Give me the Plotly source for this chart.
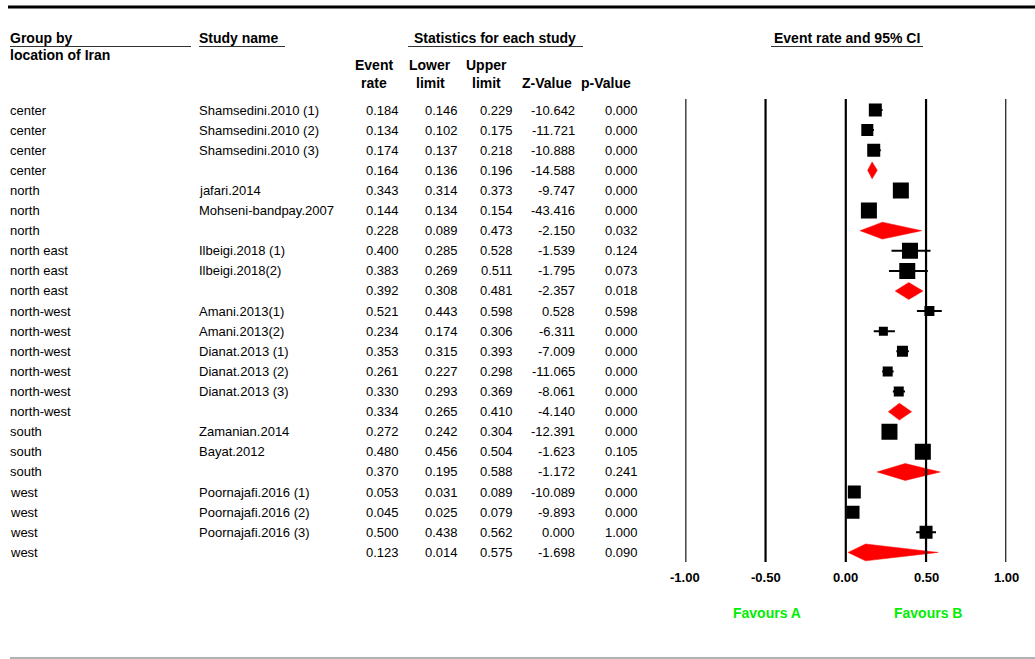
import plotly.graph_objects as go

# ---- data -------------------------------------------------------------
groups = ["center", "center", "center", "center",
          "north", "north", "north",
          "north east", "north east", "north east",
          "north-west", "north-west", "north-west", "north-west", "north-west", "north-west",
          "south", "south", "south",
          "west", "west", "west", "west"]
studies = ["Shamsedini.2010 (1)", "Shamsedini.2010 (2)", "Shamsedini.2010 (3)", "",
           "jafari.2014", "Mohseni-bandpay.2007", "",
           "Ilbeigi.2018 (1)", "Ilbeigi.2018(2)", "",
           "Amani.2013(1)", "Amani.2013(2)", "Dianat.2013 (1)", "Dianat.2013 (2)", "Dianat.2013 (3)", "",
           "Zamanian.2014", "Bayat.2012", "",
           "Poornajafi.2016 (1)", "Poornajafi.2016 (2)", "Poornajafi.2016 (3)", ""]
event_rate = [0.184, 0.134, 0.174, 0.164,
              0.343, 0.144, 0.228,
              0.400, 0.383, 0.392,
              0.521, 0.234, 0.353, 0.261, 0.330, 0.334,
              0.272, 0.480, 0.370,
              0.053, 0.045, 0.500, 0.123]
lower_limit = [0.146, 0.102, 0.137, 0.136,
               0.314, 0.134, 0.089,
               0.285, 0.269, 0.308,
               0.443, 0.174, 0.315, 0.227, 0.293, 0.265,
               0.242, 0.456, 0.195,
               0.031, 0.025, 0.438, 0.014]
upper_limit = [0.229, 0.175, 0.218, 0.196,
               0.373, 0.154, 0.473,
               0.528, 0.511, 0.481,
               0.598, 0.306, 0.393, 0.298, 0.369, 0.410,
               0.304, 0.504, 0.588,
               0.089, 0.079, 0.562, 0.575]
z_value = [-10.642, -11.721, -10.888, -14.588,
           -9.747, -43.416, -2.150,
           -1.539, -1.795, -2.357,
           0.528, -6.311, -7.009, -11.065, -8.061, -4.140,
           -12.391, -1.623, -1.172,
           -10.089, -9.893, 0.000, -1.698]
p_value = [0.000, 0.000, 0.000, 0.000,
           0.000, 0.000, 0.032,
           0.124, 0.073, 0.018,
           0.598, 0.000, 0.000, 0.000, 0.000, 0.000,
           0.000, 0.105, 0.241,
           0.000, 0.000, 1.000, 0.090]
axis_ticks = [-1.0, -0.5, 0.0, 0.5, 1.0]
axis_tick_labels = ["-1.00", "-0.50", "0.00", "0.50", "1.00"]

# ---- styling ------------------------------------------------------------
# square side (px) for each study row, reflecting its weight
box_px = [13, 12, 13, None, 16, 16, None, 16, 16, None,
          10, 9, 11, 10, 10, None, 16, 16, None, 13, 13, 13, None]

W, H = 1035, 659
ROW0, ROWSTEP = 110.0, 20.11          # pixel centre of first row, row pitch
FONT = "Liberation Sans, Arial, sans-serif"
FS = 13
FS_BOLD = 14


def px(x):
    return x / W


def py(y):
    return 1 - y / H


fig = go.Figure()

# reference lines at each tick
shapes = []
for t in axis_ticks:
    shapes.append(dict(type="line", xref="x", yref="paper", x0=t, x1=t,
                       y0=py(99), y1=py(562), line=dict(color="black", width=2.2)))

study_idx = [i for i, s in enumerate(studies) if s]
summary_idx = [i for i, s in enumerate(studies) if not s]

# confidence-interval whiskers
for i in study_idx:
    fig.add_trace(go.Scatter(x=[lower_limit[i], upper_limit[i]], y=[i, i], mode="lines",
                             line=dict(color="black", width=2), hoverinfo="skip",
                             showlegend=False))

# point estimates
fig.add_trace(go.Scatter(
    x=[event_rate[i] for i in study_idx], y=study_idx, mode="markers",
    marker=dict(symbol="square", color="black", opacity=1,
                size=[box_px[i] for i in study_idx], line=dict(width=0)),
    showlegend=False, hoverinfo="skip"))

# subgroup summary diamonds
half = 0.42
for i in summary_idx:
    fig.add_trace(go.Scatter(
        x=[lower_limit[i], event_rate[i], upper_limit[i], event_rate[i], lower_limit[i]],
        y=[i, i - half, i, i + half, i], mode="lines", fill="toself",
        fillcolor="#ff0000", line=dict(color="#ff0000", width=0.5),
        showlegend=False, hoverinfo="skip"))

annotations = []


def add_text(x, y, text, anchor="left", bold=False, yref="y", color="black"):
    annotations.append(dict(
        x=x, y=y, xref="paper", yref=yref, text=f"<b>{text}</b>" if bold else text,
        showarrow=False, xanchor=anchor, yanchor="middle",
        font=dict(family=FONT, size=FS_BOLD if bold else FS, color=color)))


# table body
for i in range(len(groups)):
    add_text(px(8), i, groups[i])
    if studies[i]:
        add_text(px(197), i, studies[i])
    add_text(px(401), i, f"{event_rate[i]:.3f}", "right")
    add_text(px(460), i, f"{lower_limit[i]:.3f}", "right")
    add_text(px(515), i, f"{upper_limit[i]:.3f}", "right")
    add_text(px(577), i, f"{z_value[i]:.3f}", "right")
    add_text(px(640), i, f"{p_value[i]:.3f}", "right")

# headers
add_text(px(8), py(38), "Group by", bold=True, yref="paper")
add_text(px(8), py(55), "location of Iran", bold=True, yref="paper")
add_text(px(197), py(38), "Study name", bold=True, yref="paper")
add_text(px(495), py(38), "Statistics for each study", "center", bold=True, yref="paper")
add_text(px(847), py(38), "Event rate and 95% CI", "center", bold=True, yref="paper")
for cx, l1, l2 in [(374, "Event", "rate"), (430, "Lower", "limit"), (486, "Upper", "limit")]:
    add_text(px(cx), py(65), l1, "center", bold=True, yref="paper")
    add_text(px(cx), py(83), l2, "center", bold=True, yref="paper")
add_text(px(547), py(83), "Z-Value", "center", bold=True, yref="paper")
add_text(px(606), py(83), "p-Value", "center", bold=True, yref="paper")

# axis tick labels
for t, lab in zip(axis_ticks, axis_tick_labels):
    annotations.append(dict(x=t, y=py(577), xref="x", yref="paper", text=f"<b>{lab}</b>",
                            showarrow=False, xanchor="center", yanchor="middle",
                            font=dict(family=FONT, size=FS, color="black")))

add_text(px(767), py(613), "Favours A", "center", bold=True, yref="paper", color="#00ee00")
add_text(px(928), py(613), "Favours B", "center", bold=True, yref="paper", color="#00ee00")

# header underlines and frame rules
for x0, x1 in [(10, 191), (199, 285), (408, 583), (771, 923)]:
    shapes.append(dict(type="line", xref="paper", yref="paper", x0=px(x0), x1=px(x1),
                       y0=py(46.5), y1=py(46.5), line=dict(color="#333333", width=1)))
shapes.append(dict(type="line", xref="paper", yref="paper", x0=px(8), x1=1,
                   y0=py(7), y1=py(7), line=dict(color="black", width=3)))
shapes.append(dict(type="line", xref="paper", yref="paper", x0=px(10), x1=1,
                   y0=py(658), y1=py(658), line=dict(color="#999999", width=1.5)))

fig.update_layout(
    width=W, height=H, margin=dict(l=0, r=0, t=0, b=0),
    paper_bgcolor="white", plot_bgcolor="white",
    xaxis=dict(domain=[685.3 / W, 1006.3 / W], range=[-1, 1], visible=False, fixedrange=True),
    yaxis=dict(domain=[0, 1], range=[(H - ROW0) / ROWSTEP, -ROW0 / ROWSTEP],
               visible=False, fixedrange=True),
    shapes=shapes, annotations=annotations, showlegend=False,
)

fig.write_html("out.html", config={"displayModeBar": False})
